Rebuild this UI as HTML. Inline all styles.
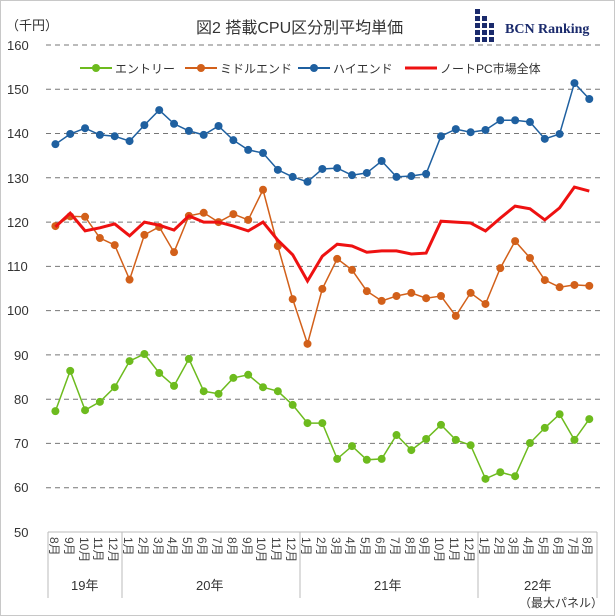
<!DOCTYPE html>
<html><head><meta charset="utf-8"><style>
html,body{margin:0;padding:0;background:#fff}
svg{display:block;font-family:"Liberation Sans","Noto Sans CJK JP",sans-serif}
</style></head><body>
<svg width="615" height="616" viewBox="0 0 615 616" xmlns="http://www.w3.org/2000/svg">
<rect x="0.5" y="0.5" width="614" height="615" fill="#fff" stroke="#c8c8c8"/>
<g stroke="#777" stroke-dasharray="5,4" stroke-width="1">
<line x1="46" x2="600" y1="45" y2="45"/><line x1="46" x2="600" y1="89.3" y2="89.3"/><line x1="46" x2="600" y1="133.5" y2="133.5"/><line x1="46" x2="600" y1="177.8" y2="177.8"/><line x1="46" x2="600" y1="222.1" y2="222.1"/><line x1="46" x2="600" y1="266.4" y2="266.4"/><line x1="46" x2="600" y1="310.6" y2="310.6"/><line x1="46" x2="600" y1="354.9" y2="354.9"/><line x1="46" x2="600" y1="399.2" y2="399.2"/><line x1="46" x2="600" y1="443.4" y2="443.4"/><line x1="46" x2="600" y1="487.7" y2="487.7"/>
</g>
<line x1="48" x2="597" y1="532" y2="532" stroke="#bbb"/>
<g stroke="#bbb"><line x1="48" x2="48" y1="532" y2="598"/><line x1="122" x2="122" y1="532" y2="598"/><line x1="300" x2="300" y1="532" y2="598"/><line x1="478" x2="478" y1="532" y2="598"/><line x1="597" x2="597" y1="532" y2="598"/></g>
<g font-size="13" fill="#333">
<text x="7" y="50">160</text><text x="7" y="94">150</text><text x="7" y="138">140</text><text x="7" y="183">130</text><text x="7" y="227">120</text><text x="7" y="271">110</text><text x="7" y="315">100</text><text x="14" y="360">90</text><text x="14" y="404">80</text><text x="14" y="448">70</text><text x="14" y="492">60</text><text x="14" y="537">50</text>
<text x="6" y="30">（千円）</text>
</g>
<text x="196" y="33" font-size="16" fill="#333">図2  搭載CPU区分別平均単価</text>
<g fill="#1a2a6c"><rect x="475" y="9" width="5" height="5"/><rect x="475" y="16" width="5" height="5"/><rect x="475" y="23" width="5" height="5"/><rect x="475" y="30" width="5" height="5"/><rect x="475" y="37" width="5" height="5"/><rect x="482" y="16" width="5" height="5"/><rect x="482" y="23" width="5" height="5"/><rect x="482" y="30" width="5" height="5"/><rect x="482" y="37" width="5" height="5"/><rect x="489" y="23" width="5" height="5"/><rect x="489" y="30" width="5" height="5"/><rect x="489" y="37" width="5" height="5"/></g>
<text x="505" y="33" font-size="14" font-weight="bold" fill="#1a2a6c" font-family="Liberation Serif,serif">BCN Ranking</text>
<g font-size="12" fill="#333">
<line x1="80" x2="112" y1="68" y2="68" stroke="#6dbb1e" stroke-width="2"/><circle cx="96" cy="68" r="4" fill="#6dbb1e"/><text x="115" y="73">エントリー</text>
<line x1="185" x2="217" y1="68" y2="68" stroke="#d2601a" stroke-width="2"/><circle cx="201" cy="68" r="4" fill="#d2601a"/><text x="220" y="73">ミドルエンド</text>
<line x1="298" x2="330" y1="68" y2="68" stroke="#1f60a0" stroke-width="2"/><circle cx="314" cy="68" r="4" fill="#1f60a0"/><text x="333" y="73">ハイエンド</text>
<line x1="405" x2="437" y1="68" y2="68" stroke="#ee1111" stroke-width="3"/><text x="440" y="73">ノートPC市場全体</text>
</g>
<g id="series"></g>
<g font-size="12" fill="#444">
<text transform="translate(50,537) rotate(90)">8月</text><text transform="translate(65,537) rotate(90)">9月</text><text transform="translate(80,537) rotate(90)">10月</text><text transform="translate(94,537) rotate(90)">11月</text><text transform="translate(109,537) rotate(90)">12月</text>
<text transform="translate(124,537) rotate(90)">1月</text><text transform="translate(139,537) rotate(90)">2月</text><text transform="translate(154,537) rotate(90)">3月</text><text transform="translate(168,537) rotate(90)">4月</text><text transform="translate(183,537) rotate(90)">5月</text><text transform="translate(198,537) rotate(90)">6月</text><text transform="translate(213,537) rotate(90)">7月</text><text transform="translate(228,537) rotate(90)">8月</text><text transform="translate(243,537) rotate(90)">9月</text><text transform="translate(257,537) rotate(90)">10月</text><text transform="translate(272,537) rotate(90)">11月</text><text transform="translate(287,537) rotate(90)">12月</text>
<text transform="translate(302,537) rotate(90)">1月</text><text transform="translate(317,537) rotate(90)">2月</text><text transform="translate(332,537) rotate(90)">3月</text><text transform="translate(346,537) rotate(90)">4月</text><text transform="translate(361,537) rotate(90)">5月</text><text transform="translate(376,537) rotate(90)">6月</text><text transform="translate(391,537) rotate(90)">7月</text><text transform="translate(406,537) rotate(90)">8月</text><text transform="translate(420,537) rotate(90)">9月</text><text transform="translate(435,537) rotate(90)">10月</text><text transform="translate(450,537) rotate(90)">11月</text><text transform="translate(465,537) rotate(90)">12月</text>
<text transform="translate(480,537) rotate(90)">1月</text><text transform="translate(495,537) rotate(90)">2月</text><text transform="translate(509,537) rotate(90)">3月</text><text transform="translate(524,537) rotate(90)">4月</text><text transform="translate(539,537) rotate(90)">5月</text><text transform="translate(554,537) rotate(90)">6月</text><text transform="translate(569,537) rotate(90)">7月</text><text transform="translate(583,537) rotate(90)">8月</text>
</g>
<g font-size="13" fill="#333">
<text x="71" y="590">19年</text><text x="196" y="590">20年</text><text x="374" y="590">21年</text><text x="524" y="590">22年</text>
<text x="519" y="607" font-size="12">（最大パネル）</text>
</g>
<script>
(function(){
var H=[137.6,139.9,141.2,139.7,139.4,138.3,141.9,145.3,142.2,140.6,139.7,141.7,138.5,136.3,135.6,131.8,130.2,129.1,132,132.2,130.6,131.1,133.8,130.2,130.4,130.9,139.4,141,140.3,140.8,143,143,142.6,138.8,139.9,151.4,147.8];
var M=[119.1,121.3,121.2,116.4,114.8,107,117.1,118.9,113.2,121.4,122.1,120,121.8,120.5,127.3,114.6,102.6,92.5,104.9,111.7,109.2,104.4,102.2,103.3,104,102.8,103.3,98.8,104,101.5,109.6,115.7,111.9,106.9,105.3,105.8,105.6];
var R=[118.9,122,118,118.7,119.6,116.9,120,119.3,118.2,121.4,120,120,119.1,118,120,115.9,112.6,106.7,112.3,115,114.6,113.2,113.5,113.5,112.8,113,120.2,120,119.8,118,120.9,123.6,123,120.5,123.2,127.9,127];
var E=[77.3,86.4,77.5,79.4,82.7,88.6,90.2,85.9,83,89.1,81.8,81.2,84.8,85.5,82.7,81.8,78.7,74.6,74.6,66.5,69.4,66.3,66.5,71.9,68.5,71,74.2,70.8,69.6,62,63.5,62.6,70.1,73.5,76.6,70.8,75.5];
var g=document.getElementById('series'),ns='http://www.w3.org/2000/svg';
function X(i){return 55.4+14.83*i}function Y(v){return 45+(160-v)*4.427}
function draw(d,c,w,dots){var p=d.map(function(v,i){return X(i).toFixed(1)+','+Y(v).toFixed(1)}).join(' ');
var l=document.createElementNS(ns,'polyline');l.setAttribute('points',p);l.setAttribute('fill','none');l.setAttribute('stroke',c);l.setAttribute('stroke-width',w);g.appendChild(l);
if(dots)d.forEach(function(v,i){var k=document.createElementNS(ns,'circle');k.setAttribute('cx',X(i));k.setAttribute('cy',Y(v));k.setAttribute('r',4);k.setAttribute('fill',c);g.appendChild(k);});}
draw(H,'#1f60a0',1.5,1);draw(M,'#d2601a',1.5,1);draw(E,'#6dbb1e',1.5,1);draw(R,'#ee1111',3,0);
})();
</script>
</svg>
</body></html>
